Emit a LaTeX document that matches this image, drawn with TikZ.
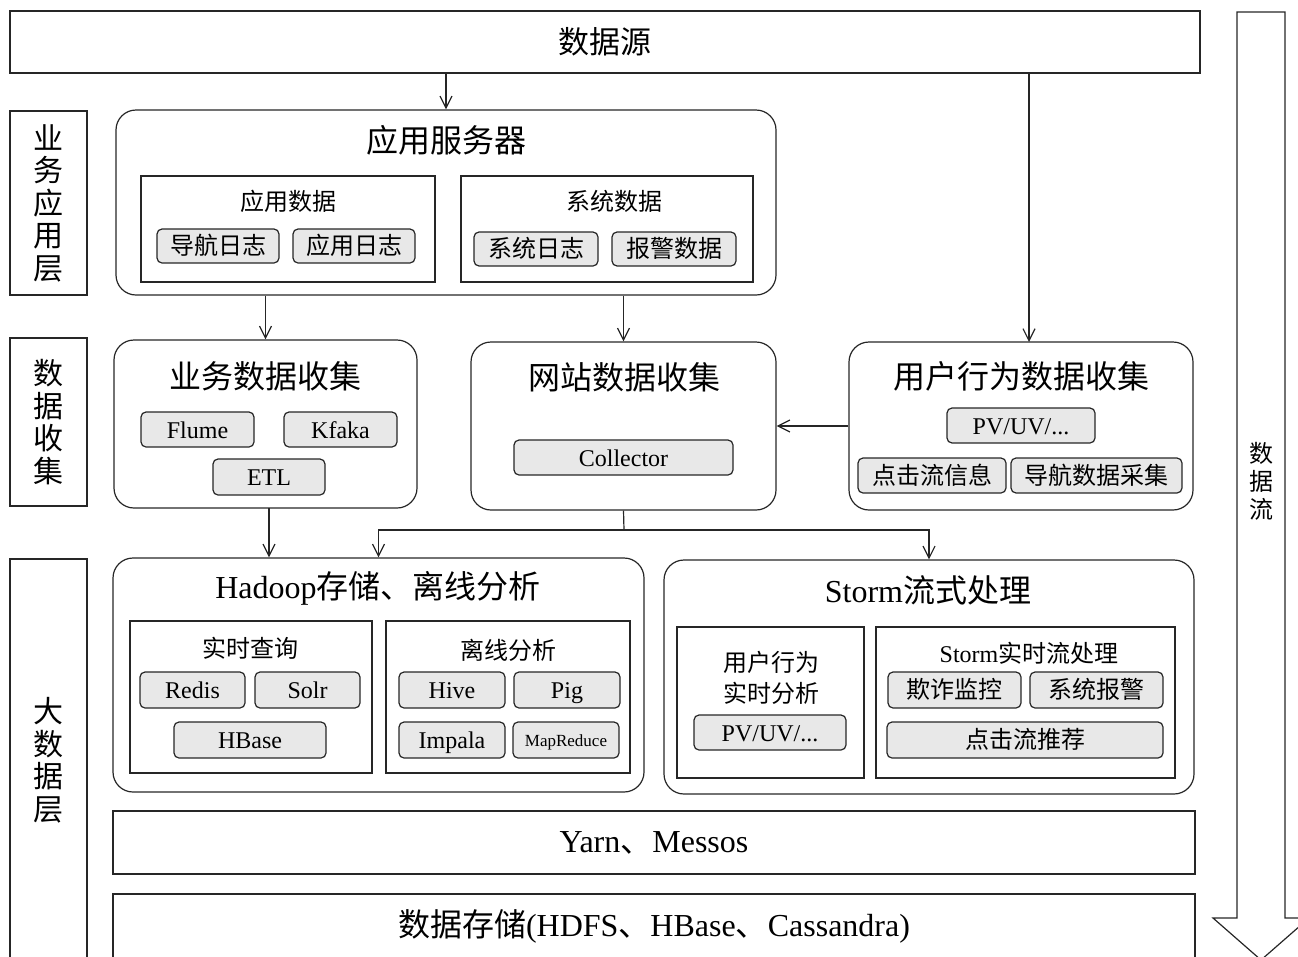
\documentclass[tikz,border=0pt]{standalone}
\usepackage{fontspec}
\setmainfont{Liberation Serif}
\newfontfamily\cjk{Noto Sans CJK SC}
\usetikzlibrary{arrows.meta}
\tikzset{
  base/.style={line width=1.2pt, draw=black!85},
  plain/.style={base, rectangle, inner sep=0pt},
  rbox/.style={base, rectangle, rounded corners=20pt, inner sep=0pt},
  chip/.style={base, rectangle, rounded corners=5pt, fill=gray!18, inner sep=0pt, text height=20.6pt, text depth=3.4pt, font=\fontsize{24}{26}\selectfont},
  smallchip/.style={chip, text height=14.6pt, text depth=2.4pt, font=\fontsize{17}{19}\selectfont},
  arr/.style={line width=1.2pt, draw=black!85, -{Straight Barb[length=12pt,width=12pt]}},
  title/.style={inner sep=0pt, font=\fontsize{32}{34}\selectfont},
  sub/.style={inner sep=0pt, font=\fontsize{24}{31}\selectfont, align=center},
  layer/.style={plain, align=center, font=\cjk\fontsize{30}{32.5}\selectfont},
  sz/.style 2 args={minimum width=#1pt, minimum height=#2pt},
}
\begin{document}
\begin{tikzpicture}[x=1pt,y=-1pt]
\useasboundingbox (0,0) rectangle (1298,956);
\clip (0,0) rectangle (1298,956);

% data source
\node[plain, sz={1190}{62}, font=\cjk\fontsize{31}{33}\selectfont] (src) at (605,42) {数据源};

% layer labels
\node[layer, sz={77}{184}] (L1) at (48.5,203) {业\\务\\应\\用\\层};
\node[layer, sz={77}{168}] (L2) at (48.5,422) {数\\据\\收\\集};
\node[layer, sz={77}{402}] (L3) at (48.5,760) {大\\数\\据\\层};

% application server
\node[rbox, sz={660}{185}] (app) at (446,202.5) {};
\node[title] (appT) at (446,140) {\cjk 应用服务器};
\node[plain, sz={294}{106}] (appdata) at (288,229) {};
\node[sub] (appdataT) at (288,201) {\cjk 应用数据};
\node[chip, sz={122}{34}] (c1) at (218,246) {\cjk 导航日志};
\node[chip, sz={122}{34}] (c2) at (354,246) {\cjk 应用日志};
\node[plain, sz={292}{106}] (sysdata) at (607,229) {};
\node[sub] (sysdataT) at (614,201) {\cjk 系统数据};
\node[chip, sz={124}{34}] (c3) at (536,249) {\cjk 系统日志};
\node[chip, sz={124}{34}] (c4) at (674,249) {\cjk 报警数据};

% business data collection
\node[rbox, sz={303}{168}] (biz) at (265.5,424) {};
\node[title] (bizT) at (265,376) {\cjk 业务数据收集};
\node[chip, sz={113}{35}] (flume) at (197.5,429.5) {Flume};
\node[chip, sz={113}{35}] (kfaka) at (340.5,429.5) {Kfaka};
\node[chip, sz={112}{36}] (etl) at (269,477) {ETL};

% web data collection
\node[rbox, sz={305}{168}] (web) at (623.5,426) {};
\node[title] (webT) at (624,377) {\cjk 网站数据收集};
\node[chip, sz={219}{35}] (coll) at (623.5,457.5) {Collector};

% user behaviour collection
\node[rbox, sz={344}{168}] (user) at (1021,426) {};
\node[title] (userT) at (1021,376) {\cjk 用户行为数据收集};
\node[chip, sz={148}{35}] (pv1) at (1021,425.5) {PV/UV/...};
\node[chip, sz={148}{35}] (click) at (932,475.5) {\cjk 点击流信息};
\node[chip, sz={171}{35}] (nav) at (1096.5,475.5) {\cjk 导航数据采集};

% hadoop
\node[rbox, sz={531}{234}] (hadoop) at (378.5,675) {};
\node[title] (hadoopT) at (378,588) {Hadoop{\cjk 存储、离线分析}};
\node[plain, sz={242}{152}] (rtq) at (251,697) {};
\node[sub] (rtqT) at (250,648) {\cjk 实时查询};
\node[chip, sz={105}{36}] (redis) at (192.5,690) {Redis};
\node[chip, sz={105}{36}] (solr) at (307.5,690) {Solr};
\node[chip, sz={152}{36}] (hbase) at (250,740) {HBase};
\node[plain, sz={244}{152}] (off) at (508,697) {};
\node[sub] (offT) at (508,650) {\cjk 离线分析};
\node[chip, sz={106}{36}] (hive) at (452,690) {Hive};
\node[chip, sz={106}{36}] (pig) at (567,690) {Pig};
\node[chip, sz={106}{36}] (impala) at (452,740) {Impala};
\node[smallchip, sz={106}{36}] (mr) at (566,740) {MapReduce};

% storm
\node[rbox, sz={530}{234}] (storm) at (929,677) {};
\node[title] (stormT) at (928,590) {Storm{\cjk 流式处理}};
\node[plain, sz={187}{151}] (uba) at (770.5,702.5) {};
\node[sub] (ubaT) at (771,677.5) {\cjk 用户行为\\\cjk 实时分析};
\node[chip, sz={152}{35}] (pv2) at (770,732.5) {PV/UV/...};
\node[plain, sz={299}{151}] (srt) at (1025.5,702.5) {};
\node[sub] (srtT) at (1029,653) {Storm{\cjk 实时流处理}};
\node[chip, sz={133}{36}] (fraud) at (954.5,690) {\cjk 欺诈监控};
\node[chip, sz={133}{36}] (alarm) at (1096.5,690) {\cjk 系统报警};
\node[chip, sz={276}{36}] (rec) at (1025,740) {\cjk 点击流推荐};

% yarn / storage
\node[plain, sz={1082}{63}, font=\fontsize{32}{34}\selectfont] (yarn) at (654,842.5) {Yarn{\cjk 、}Messos};
\node[plain, sz={1082}{64}, font=\fontsize{32}{34}\selectfont] (store) at (654,926) {{\cjk 数据存储}(HDFS{\cjk 、}HBase{\cjk 、}Cassandra)};

% big data-flow arrow
\draw[base] (1237,12) -- (1285,12) -- (1285,918) -- (1309,918) -- (1261,960) -- (1213,918) -- (1237,918) -- cycle;
\node[inner sep=0pt, align=center, font=\cjk\fontsize{24}{28}\selectfont] (flow) at (1261,481) {数\\据\\流};

% connectors
\coordinate (u1) at (1029,342);
\coordinate (b1) at (269,508);
\coordinate (j) at (624,530);
\draw[arr] (src.south -| app.north) -- (app.north);
\draw[arr] (src.south -| u1) -- (u1);
\draw[arr] (app.south -| biz.north) -- (biz.north);
\draw[arr] (app.south -| web.north) -- (web.north);
\draw[arr] (user.west) -- (web.east);
\draw[arr] (b1) -- (b1 |- hadoop.north);
\draw[line width=1.2pt, draw=black!85] (web.south) -- (j);
\draw[arr] (j) -| (hadoop.north);
\draw[arr] (j) -| (storm.north);
\end{tikzpicture}
\end{document}
